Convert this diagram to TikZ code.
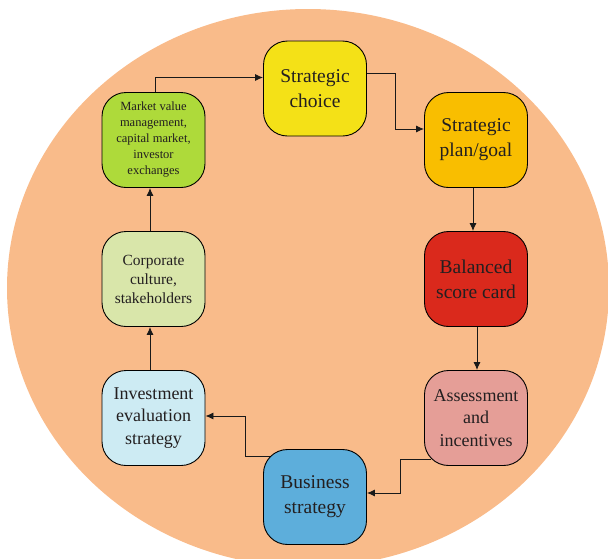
\documentclass[tikz,border=0pt]{standalone}
\usepackage{fontspec}
\setmainfont{Liberation Serif}
\usepackage{tikz}
\usetikzlibrary{arrows.meta}
\definecolor{bgorange}{HTML}{F9BB8A}
\definecolor{mktgreen}{HTML}{AEDA3A}
\definecolor{choiceyellow}{HTML}{F4E117}
\definecolor{planorange}{HTML}{F9BE00}
\definecolor{corpgreen}{HTML}{D9E6AA}
\definecolor{bscred}{HTML}{DA291C}
\definecolor{invblue}{HTML}{CDEBF3}
\definecolor{assesspink}{HTML}{E59E97}
\definecolor{busblue}{HTML}{5DAEDB}
\definecolor{textgray}{HTML}{231F20}
\tikzset{box/.style={draw=black, line width=0.9pt, rounded corners=24pt,
   minimum width=103pt, minimum height=95pt, align=center, text=textgray,
   inner sep=2pt},
 bigtext/.style={font=\fontsize{19.5}{25}\selectfont},
 midtext/.style={font=\fontsize{18}{22.5}\selectfont},
 smalltext/.style={font=\fontsize{15.5}{19}\selectfont},
 tinytext/.style={font=\fontsize{12.5}{16}\selectfont},
 arr/.style={draw=black!90, line width=0.9pt, -{Latex[length=8pt,width=7pt]}},
 }

\begin{document}
\begin{tikzpicture}[x=1pt, y=-1pt]
        \useasboundingbox (0,0) rectangle (608,558);
        \fill[bgorange] (308,288) ellipse [x radius=301, y radius=279];
        \node[box, fill=choiceyellow, bigtext] (choice) at (315,88.5) {Strategic\\choice};
        \node[box, fill=planorange, bigtext] (plan) at (476,140) {Strategic\\plan/goal};
        \node[box, fill=bscred, bigtext] (bsc) at (476,279) {Balanced\\score card};
        \node[box, fill=assesspink, midtext] (assess) at (476,418) {Assessment\\and\\incentives};
        \node[box, fill=busblue, bigtext] (business) at (315,497) {Business\\strategy};
        \node[box, fill=invblue, midtext] (invest) at (153.5,418) {Investment\\evaluation\\strategy};
        \node[box, fill=corpgreen, smalltext] (corp) at (153.5,279) {Corporate\\culture,\\stakeholders};
        \node[box, fill=mktgreen, tinytext] (market) at (153.5,140) {Market value\\management,\\capital market,\\investor\\exchanges};
        \draw[arr] ([xshift=1.5pt]market.north) |- ([yshift=11pt]choice.west);
        \draw[arr] ([yshift=15pt]choice.east) -- ++(28,0) |- ([yshift=11pt]plan.west);
        \draw[arr] ([xshift=-3pt]plan.south) -- ([xshift=-3pt]bsc.north);
        \draw[arr] ([xshift=1pt]bsc.south) -- ([xshift=1pt]assess.north);
        \draw[arr] ([shift={(7pt,7pt)}]assess.south west) -- ++(-31,0) |- ([yshift=4pt]business.east);
        \draw[arr] ([shift={(7pt,-7pt)}]business.north west) -- ++(-25,0) |- ([yshift=2pt]invest.east);
        \draw[arr] ([xshift=-3.5pt]invest.north) -- ([xshift=-3.5pt]corp.south);
        \draw[arr] ([xshift=-3.5pt]corp.north) -- ([xshift=-3.5pt]market.south);
    \end{tikzpicture}
\end{document}
